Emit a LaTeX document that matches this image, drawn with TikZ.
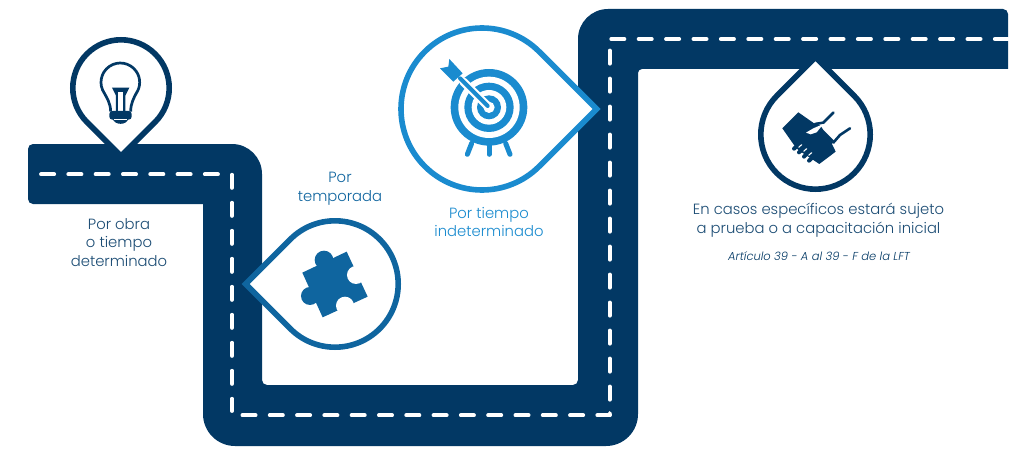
\documentclass[tikz,border=0pt]{standalone}
\usepackage{fontspec}
\setmainfont{Poppins}[UprightFont=* Light,ItalicFont=* Light Italic]
\definecolor{road}{HTML}{023864}
\definecolor{pinb}{HTML}{0F659F}
\definecolor{pinc}{HTML}{1A8BCF}
\tikzset{
  roadfill/.style={fill=road,draw=none},
  laneh/.style={draw=white,line width=3.8pt,line cap=round,dash pattern=on 13.2pt off 14.1pt},
  lanet/.style={draw=white,line width=3.8pt,line cap=round,dash pattern=on 13.2pt off 14.2pt},
  lanev/.style={draw=white,line width=3.8pt,line cap=round,dash pattern=on 13.2pt off 14.8pt},
  pin/.style={draw=#1,fill=white,line width=5.6pt,miter limit=10},
  lbl/.style={align=center,font=\fontsize{14.8}{18.8}\selectfont,text=#1}
}
% centre x, centre y, radius, tip angle (y downwards), colour
\newcommand{\teardrop}[5]{%
  \draw[pin=#5] (#1,#2) ++(#4:{#3*1.4142}) -- ($(#1,#2)+(#4+45:#3)$)
    arc[start angle=#4+45,end angle=#4+315,radius=#3] -- cycle;
}
\usetikzlibrary{calc}
\begin{document}
\begin{tikzpicture}[x=1pt,y=-1pt]
\useasboundingbox (0,0) rectangle (1024,468);
\path[fill=white] (0,0) rectangle (1024,468);
% road
\path[roadfill,rounded corners=5pt] (28,174) -- (28,144) [rounded corners=30pt] -- (262,144) [rounded corners=5pt] -- (262,385) -- (578,385) [rounded corners=30pt] -- (578,9) [rounded corners=5pt] -- (1008,9) [sharp corners] -- (1008,69) [rounded corners=4pt] -- (638,69) [rounded corners=32pt] -- (638,446) -- (203,446) [sharp corners] -- (203,204) [rounded corners=5pt] -- (28,204) -- cycle;
% lane
\coordinate (l1a) at (41,174.3);  \coordinate (l1b) at (218.6,174.3);
\coordinate (l2a) at (232,174.7); \coordinate (l2b) at (232,411);
\coordinate (l3a) at (242.4,415.3); \coordinate (l3b) at (610,415.3);
\coordinate (l4a) at (609.7,399.7); \coordinate (l4b) at (609.7,50);
\coordinate (l4c) at (609.7,413);
\coordinate (l5a) at (611.2,39); \coordinate (l5b) at (1008,39);
\draw[laneh] (l1a) -- (l1b);
\draw[lanev] (l2a) -- (l2b);
\draw[laneh] (l3a) -- (l3b);
\draw[lanev] (l4a) -- (l4b);
\draw[draw=white,line width=3.8pt,line cap=round] (l4c) -- (l3b);
\draw[lanet] (l5a) -- (l5b);
% pins
\teardrop{121}{88}{48.2}{90}{road}
\teardrop{335}{284}{63.2}{180}{pinb}
\teardrop{482}{109}{81}{0}{pinc}
\teardrop{815.5}{134.5}{54.7}{-90}{road}
% bulb
\begin{scope}[shift={(90,55)},scale=0.3333]
  \draw[road,line width=2.7pt,line join=round] (62,170) .. controls (62,145) and (50,128) .. (43.5,115.3) arc[start angle=145,end angle=395,radius=58] .. controls (132,128) and (122,145) .. (122,170);
  \fill[road] (66,98) -- (118,98) -- (106,122) -- (106,170) -- (78,170) -- (78,122) -- cycle;
  \fill[white] (85,110) -- (99,110) -- (99,170) -- (85,170) -- cycle;
  \fill[road,rounded corners=3pt] (58,168) rectangle (125,194);
  \fill[road] (68,190) -- (115,190) .. controls (112,212) and (72,212) .. (68,190) -- cycle;
  \draw[white,line width=1.6pt] (72,194) -- (112,194);
\end{scope}
% puzzle
\begin{scope}[shift={(230,160)},scale=0.3333]
  \fill[pinb] (217,338) -- (350,275) -- (413,410) -- (278,472) -- cycle;
  \fill[pinb] (282,300) circle[radius=28];
  \fill[pinb] (240,408) circle[radius=27];
  \fill[white] (378,345) circle[radius=27];
  \fill[white] (345,437) circle[radius=27];
\end{scope}
% target
\begin{scope}[shift={(435,55)},scale=0.3333]
  \draw[pinc,line width=5pt,line cap=round] (110,265) -- (97,298);
  \draw[pinc,line width=5pt,line cap=round] (162,270) -- (162,298);
  \draw[pinc,line width=5pt,line cap=round] (212,265) -- (225,298);
  \fill[pinc] (162,157) circle[radius=115];
  \fill[white] (162,157) circle[radius=92];
  \fill[pinc] (162,157) circle[radius=74];
  \fill[white] (162,157) circle[radius=52];
  \fill[pinc] (162,157) circle[radius=36];
  \fill[white] (162,157) circle[radius=17];
  \draw[white,line width=8.5pt,line cap=round] (85,80) -- (158,153);
  \draw[pinc,line width=4pt,line cap=round] (75,70) -- (158,153);
  \fill[pinc] (15,40) -- (40,35) -- (43,12) -- (83,55) -- (55,80) -- cycle;
\end{scope}
% handshake
\begin{scope}[shift={(770,100)},scale=0.3333]
  \fill[road,line join=round] (37,85) -- (85,37) -- (135,72) -- (150,75) -- (160,90) -- (195,125) -- (185,130) -- (197,155) -- (148,192) -- (130,180) -- (85,150) -- (72,135) -- cycle;
  \draw[road,line width=2.6pt,line cap=round] (135,72) -- (160,68) -- (190,38);
  \draw[road,line width=2.6pt,line cap=round] (190,128) -- (210,105) -- (240,85);
  \fill[white] (108,98) -- (130,85) -- (160,72) -- (140,97) -- (122,103) -- cycle;
  \draw[road,line width=4pt,line cap=round] (72,146) -- (85,135) (87,157) -- (100,145) (102,170) -- (115,157) (117,182) -- (130,170);
  \draw[white,line width=1.1pt,line cap=round] (86,142) -- (95,134) (101,154) -- (110,146) (116,166) -- (125,158);
\end{scope}
% labels
\node[lbl=road!90] (a) at (119,242.5) {Por obra\\o tiempo\\determinado};
\node[lbl=pinb] (b) at (340,189) {Por\\temporada};
\node[lbl=pinc] (c) at (489,222) {Por tiempo\\indeterminado};
\node[lbl=road!90] (d) at (818.5,220.5) {En casos específicos estará sujeto\\a prueba o a capacitación inicial};
\node[text=road,font=\fontsize{11.5}{13}\selectfont\itshape] (e) at (819,256) {Artículo 39 - A al 39 - F de la LFT};
\end{tikzpicture}
\end{document}
